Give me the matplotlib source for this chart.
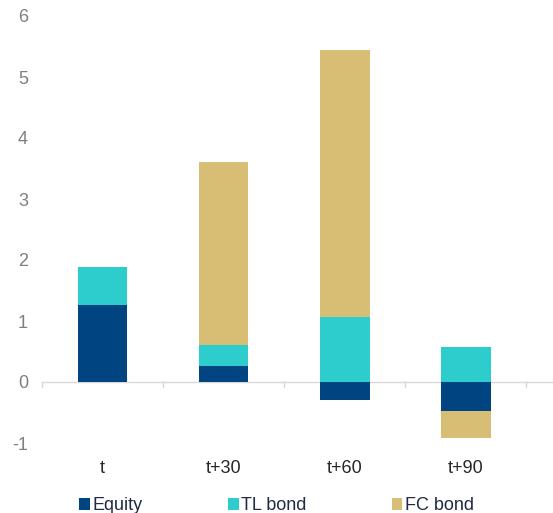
import numpy as np
import matplotlib.pyplot as plt

plt.rcParams['font.family'] = ['Liberation Sans', 'DejaVu Sans']
plt.rcParams['axes.unicode_minus'] = False

categories = ['t', 't+30', 't+60', 't+90']
series_names = ['Equity', 'TL bond', 'FC bond']
equity = [1.26, 0.26, -0.30, -0.47]
tl_bond = [0.63, 0.35, 1.07, 0.57]
fc_bond = [0.0, 3.00, 4.38, -0.45]
colors = ['#004481', '#2ECDCD', '#D8BD74']

fig = plt.figure(figsize=(5.53, 5.13), dpi=100)
ax = fig.add_axes([42 / 553, 70 / 513, 511 / 553, 427 / 513])

x = np.arange(len(categories))
pos_bottom = np.zeros(len(categories))
neg_bottom = np.zeros(len(categories))
for name, vals, col in zip(series_names, [equity, tl_bond, fc_bond], colors):
    vals = np.array(vals)
    bottom = np.where(vals >= 0, pos_bottom, neg_bottom)
    ax.bar(x, vals, 0.41, bottom=bottom, color=col, label=name, zorder=2)
    pos_bottom += np.clip(vals, 0, None)
    neg_bottom += np.clip(vals, None, 0)

ax.set_xlim(-0.5, 3.72)
ax.set_ylim(-1, 6)
ax.set_yticks(range(-1, 7))
for s in ['top', 'right', 'left', 'bottom']:
    ax.spines[s].set_visible(False)
ax.axhline(0, color='#d9d9d9', lw=1, zorder=1)
# category boundary ticks on the zero line
for b in np.arange(-0.5, 4, 1.0):
    ax.plot([b, b], [0, -0.09], color='#d9d9d9', lw=1, zorder=1, clip_on=False)

ax.tick_params(axis='y', length=0, labelsize=13, labelcolor='#7f7f7f', pad=10)
ax.set_xticks(x)
ax.set_xticklabels(categories)
ax.tick_params(axis='x', length=0, labelsize=13, labelcolor='#262626', pad=12)

fig.legend(loc='lower left', bbox_to_anchor=(63 / 553, -0.034), ncol=3, frameon=False,
           fontsize=13, handlelength=0.6, handleheight=0.6, handletextpad=0.15,
           columnspacing=4.7, labelcolor='#1f2a44')

fig.savefig('out.png', dpi=100)
